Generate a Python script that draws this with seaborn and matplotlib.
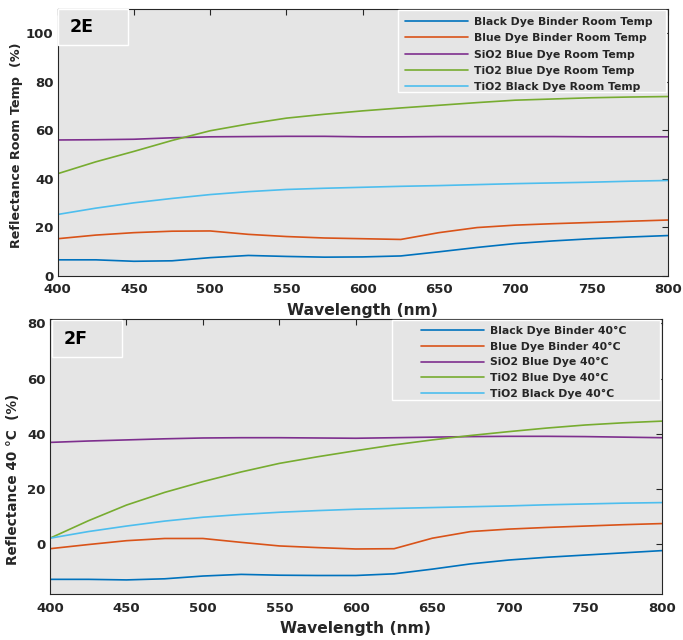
import numpy as np
import pandas as pd
import matplotlib
matplotlib.use("Agg")
import matplotlib.pyplot as plt
import seaborn as sns
from matplotlib.patches import Rectangle

# wavelength grid (nm)
wavelength = [400, 425, 450, 475, 500, 525, 550, 575, 600, 625, 650, 675, 700, 725, 750, 775, 800]

# panel 2E - room temperature reflectance (%)
black_binder_rt = [6.6, 6.6, 6.0, 6.2, 7.5, 8.4, 8.0, 7.7, 7.8, 8.2, 9.9, 11.7, 13.3, 14.4, 15.3, 16.0, 16.6]
blue_binder_rt = [15.3, 16.8, 17.8, 18.4, 18.5, 17.1, 16.2, 15.6, 15.3, 15.0, 17.8, 19.9, 20.9, 21.5, 22.0, 22.5, 23.0]
sio2_blue_rt = [56.0, 56.1, 56.3, 56.9, 57.3, 57.4, 57.5, 57.5, 57.3, 57.3, 57.4, 57.4, 57.4, 57.4, 57.3, 57.3, 57.3]
tio2_blue_rt = [42.1, 47.0, 51.3, 55.8, 59.8, 62.6, 65.0, 66.6, 68.0, 69.2, 70.3, 71.4, 72.4, 72.9, 73.4, 73.7, 73.9]
tio2_black_rt = [25.3, 27.9, 30.1, 31.9, 33.5, 34.7, 35.6, 36.1, 36.5, 36.9, 37.2, 37.6, 38.0, 38.3, 38.6, 39.0, 39.3]

# panel 2F - 40 °C reflectance (%)
black_binder_40 = [-12.7, -12.7, -12.9, -12.5, -11.5, -10.9, -11.2, -11.3, -11.3, -10.7, -9.0, -7.1, -5.7, -4.7, -3.9, -3.1, -2.3]
blue_binder_40 = [-1.6, -0.1, 1.3, 2.1, 2.1, 0.7, -0.6, -1.2, -1.7, -1.6, 2.2, 4.6, 5.5, 6.1, 6.6, 7.1, 7.5]
sio2_blue_40 = [36.9, 37.4, 37.8, 38.2, 38.5, 38.6, 38.6, 38.5, 38.4, 38.6, 38.8, 39.0, 39.1, 39.1, 39.0, 38.8, 38.6]
tio2_blue_40 = [2.2, 8.5, 14.2, 18.8, 22.7, 26.2, 29.3, 31.7, 33.9, 36.0, 37.8, 39.4, 40.8, 42.1, 43.2, 44.0, 44.6]
tio2_black_40 = [2.2, 4.6, 6.6, 8.4, 9.8, 10.8, 11.6, 12.2, 12.7, 13.0, 13.3, 13.6, 13.9, 14.3, 14.6, 14.9, 15.1]

labels_rt = ["Black Dye Binder Room Temp", "Blue Dye Binder Room Temp", "SiO2 Blue Dye Room Temp",
             "TiO2 Blue Dye Room Temp", "TiO2 Black Dye Room Temp"]
labels_40 = ["Black Dye Binder 40°C", "Blue Dye Binder 40°C", "SiO2 Blue Dye 40°C",
             "TiO2 Blue Dye 40°C", "TiO2 Black Dye 40°C"]
colors = ["#0072BD", "#D95319", "#7E2F8E", "#77AC30", "#4DBEEE"]

sns.set_theme(style="white")
plt.rcParams['font.family'] = ['DejaVu Sans']
plt.rcParams['font.weight'] = 'bold'

bg = "#e5e5e5"
dark = "#262626"

fig = plt.figure(figsize=(6.83, 6.4), dpi=100)
ax1 = fig.add_axes([0.0845, 0.569, 0.893, 0.417])
ax2 = fig.add_axes([0.0732, 0.0719, 0.8956, 0.4297])


def draw_panel(ax, series, labels, ylim, yticks, ylabel, ylab_size, ylab_xy, tag, tag_box, tag_pos,
               leg_anchor, leg_spacing, frame_box, xpad, xlabpad):
    for vals, lab, col in zip(series, labels, colors):
        sns.lineplot(x=wavelength, y=vals, ax=ax, color=col, linewidth=1.2, label=lab)
    ax.set_facecolor(bg)
    ax.set_xlim(400, 800)
    ax.set_ylim(*ylim)
    ax.set_xticks(range(400, 801, 50))
    ax.set_yticks(yticks)
    ax.tick_params(direction="in", length=4, width=0.8, colors=dark, labelsize=9.5,
                   top=True, right=True, labeltop=False, labelright=False)
    ax.tick_params(axis="x", pad=xpad)
    ax.tick_params(axis="y", pad=3)
    for lbl in ax.get_xticklabels() + ax.get_yticklabels():
        lbl.set_fontweight("bold")
    for sp in ax.spines.values():
        sp.set_color(dark)
        sp.set_linewidth(0.8)
    ax.set_xlabel("Wavelength (nm)", fontsize=11.2, fontweight="bold", color=dark, labelpad=xlabpad)
    ax.set_ylabel(ylabel, fontsize=ylab_size, fontweight="bold", color=dark)
    ax.yaxis.set_label_coords(*ylab_xy)

    # legend frame drawn as a patch, entries placed inside it
    ax.add_patch(Rectangle((frame_box[0], frame_box[1]), frame_box[2], frame_box[3], transform=ax.transAxes,
                           facecolor=bg, edgecolor="white", linewidth=1, zorder=4))
    leg = ax.legend(loc="upper left", bbox_to_anchor=leg_anchor, fontsize=7.8, frameon=False,
                    handlelength=5.8, handletextpad=0.6, borderpad=0, labelspacing=leg_spacing,
                    borderaxespad=0)
    leg.set_zorder(6)
    for t in leg.get_texts():
        t.set_fontweight("bold")
        t.set_color(dark)

    ax.add_patch(Rectangle((tag_box[0], tag_box[1]), tag_box[2], tag_box[3], transform=ax.transAxes,
                           facecolor=bg, edgecolor="white", linewidth=1, zorder=5))
    ax.text(tag_pos[0], tag_pos[1], tag, transform=ax.transAxes, fontsize=12.5, fontweight="bold",
            color="black", va="center", ha="left", zorder=6)


draw_panel(ax1, [black_binder_rt, blue_binder_rt, sio2_blue_rt, tio2_blue_rt, tio2_black_rt], labels_rt,
           (0, 110), range(0, 101, 20), "Reflectance Room Temp  (%)", 9.2, (-0.057, 0.489), "2E",
           (0.0, 0.865, 0.115, 0.135), (0.02, 0.933),
           (0.569, 0.970), 0.58, (0.558, 0.689, 0.439, 0.307), 5.5, 4.5)
draw_panel(ax2, [black_binder_40, blue_binder_40, sio2_blue_40, tio2_blue_40, tio2_black_40], labels_40,
           (-18, 81.6), range(0, 81, 20), "Reflectance 40 °C  (%)", 9.8, (-0.049, 0.415), "2F",
           (0.003, 0.863, 0.115, 0.133), (0.023, 0.926),
           (0.606, 0.975), 0.52, (0.559, 0.705, 0.438, 0.291), 6, 4)

fig.savefig("out.png", dpi=100)
